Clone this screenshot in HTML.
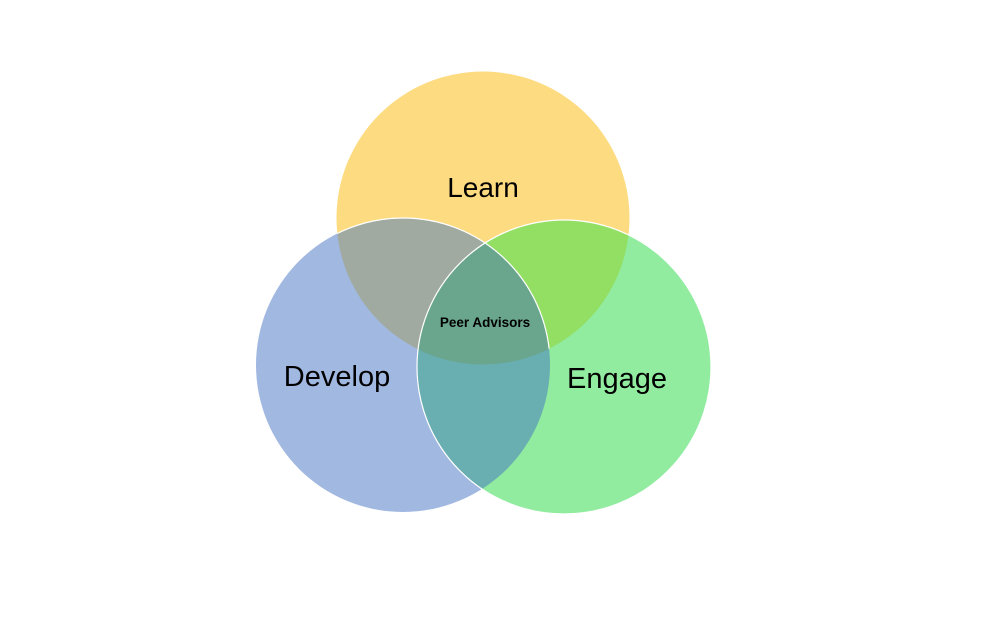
<!DOCTYPE html>
<html><head><style>
html,body{margin:0;padding:0;background:#fff;}
svg{display:block}
text{font-family:"Liberation Sans",Calibri,sans-serif;fill:#000}
</style></head><body>
<svg width="1008" height="630" viewBox="0 0 1008 630">
<defs>
<clipPath id="cy"><circle cx="483" cy="218" r="146.5"/></clipPath>
<clipPath id="cb"><circle cx="403" cy="365" r="147"/></clipPath>
<clipPath id="cg"><circle cx="564" cy="367" r="147"/></clipPath>
</defs>
<circle cx="483" cy="218" r="146.5" fill="#FDDB80"/>
<circle cx="403" cy="365" r="147" fill="#A1B8E1"/>
<circle cx="564" cy="367" r="147" fill="#91ECA0"/>
<g clip-path="url(#cy)"><circle cx="403" cy="365" r="147" fill="#A0AAA0"/><circle cx="564" cy="367" r="147" fill="#93DF64"/></g>
<g clip-path="url(#cb)"><circle cx="564" cy="367" r="147" fill="#69AEB0"/></g>
<g clip-path="url(#cb)"><g clip-path="url(#cy)"><circle cx="564" cy="367" r="147" fill="#6AA68D"/></g></g>
<circle cx="403" cy="365" r="147" fill="none" stroke="#fff" stroke-width="1.2" clip-path="url(#cy)"/>
<circle cx="564" cy="367" r="147" fill="none" stroke="#fff" stroke-width="1.2"/>
<text x="483" y="197" font-size="28" text-anchor="middle">Learn</text>
<text x="337" y="386" font-size="29" text-anchor="middle">Develop</text>
<text x="617" y="388" font-size="29" text-anchor="middle">Engage</text>
<text x="485" y="327" font-size="13.5" font-weight="bold" text-anchor="middle">Peer Advisors</text>
</svg>
</body></html>
